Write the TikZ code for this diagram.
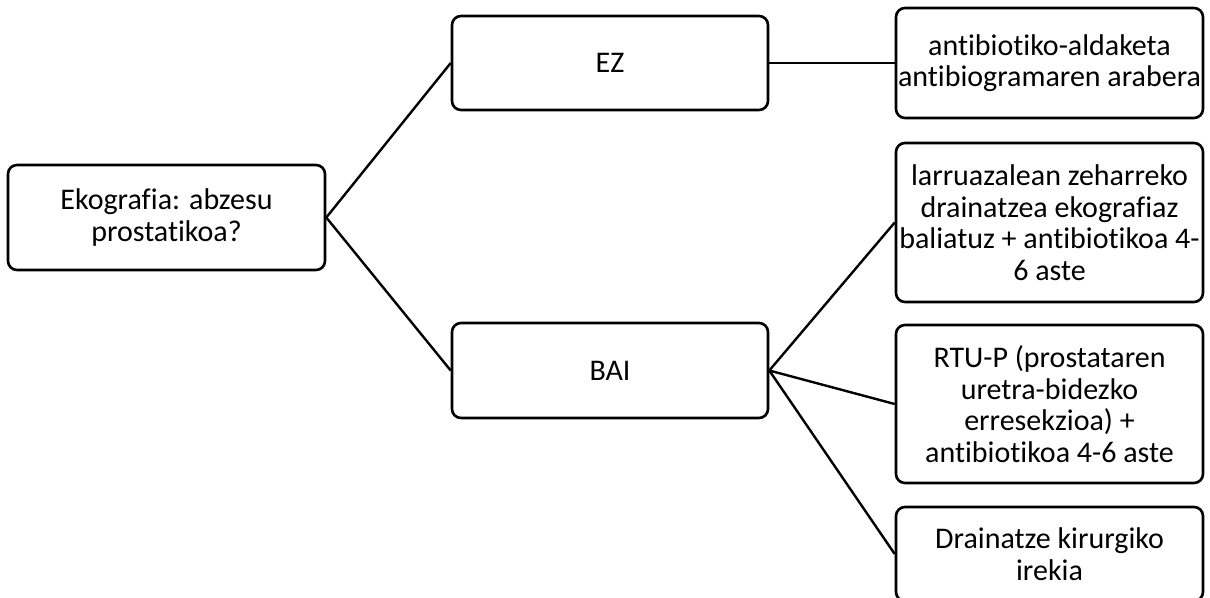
\documentclass[tikz,border=0pt]{standalone}
\usepackage{fontspec}
\setmainfont{Carlito}[Ligatures={NoCommon,NoRare,NoContextual}]
\begin{document}
\begin{tikzpicture}[x=1pt,y=-1pt,
  box/.style={draw=black, line width=2.6pt, rounded corners=9pt, fill=white,
    align=center, inner sep=0pt, font=\fontsize{30}{31.5}\selectfont},
  link/.style={draw=black, line width=2.4pt}]
\useasboundingbox (0,0) rectangle (1210,597);
% first column
\node[box, minimum width=317pt, minimum height=105pt] (q) at (166.5,217.5) {Ekografia: abzesu\\prostatikoa?};
% second column
\node[box, minimum width=316pt, minimum height=94pt] (ez) at (610,63) {EZ};
\node[box, minimum width=316pt, minimum height=95pt] (bai) at (610,370.5) {BAI};
% third column
\node[box, minimum width=307pt, minimum height=110pt] (r1) at (1049.5,63) {antibiotiko-aldaketa\\antibiogramaren arabera};
\node[box, minimum width=307pt, minimum height=159pt] (r2) at (1049.5,222.5) {larruazalean zeharreko\\drainatzea ekografiaz\\baliatuz + antibiotikoa 4-\\6 aste};
\node[box, minimum width=307pt, minimum height=158pt] (r3) at (1049.5,404) {RTU-P (prostataren\\uretra-bidezko\\erresekzioa) +\\antibiotikoa 4-6 aste};
\node[box, minimum width=307pt, minimum height=94pt] (r4) at (1049.5,554) {Drainatze kirurgiko\\irekia};
% connectors
\draw[link] (q.east) -- (ez.west);
\draw[link] (q.east) -- (bai.west);
\draw[link] (ez.east) -- (r1.west);
\draw[link] (bai.east) -- (r2.west);
\draw[link] (bai.east) -- (r3.west);
\draw[link] (bai.east) -- (r4.west);
\end{tikzpicture}
\end{document}
